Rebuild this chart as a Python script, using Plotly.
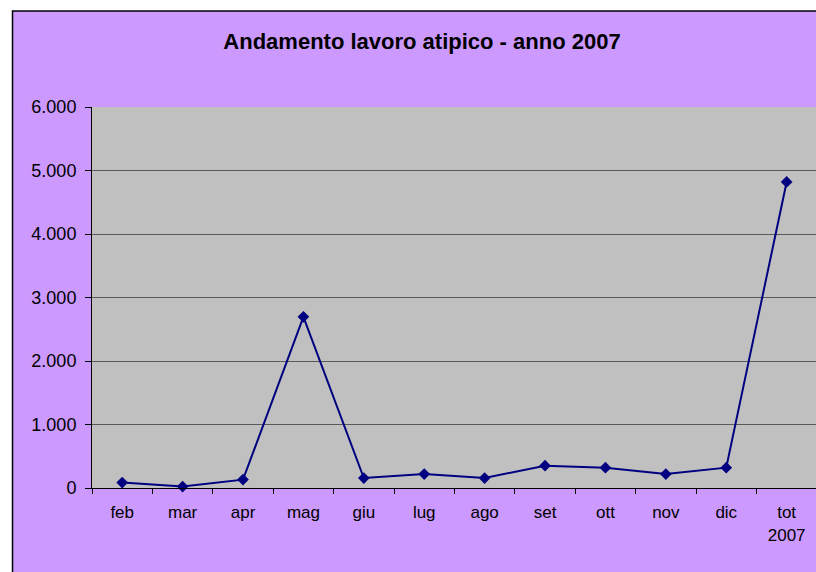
import plotly.graph_objects as go

categories = ["feb", "mar", "apr", "mag", "giu", "lug", "ago", "set", "ott", "nov", "dic", "tot<br>2007"]
values = [85, 22, 132, 2695, 157, 220, 157, 352, 320, 220, 320, 4820]
y_ticks = [0, 1000, 2000, 3000, 4000, 5000, 6000]
y_tick_text = ["0", "1.000", "2.000", "3.000", "4.000", "5.000", "6.000"]
title_text = "Andamento lavoro atipico - anno 2007"

W, H = 816, 572
L, R, T = 92, 0, 107
B = H - 488
pw, ph = W - L - R, H - T - B

def px_x(p):
    return (p - L) / pw

def px_y(p):
    return (H - B - p) / ph

fig = go.Figure()
fig.add_trace(go.Scatter(
    x=categories, y=values, mode="lines+markers",
    line=dict(color="#000080", width=2),
    marker=dict(symbol="diamond", size=9, color="#000080"),
    cliponaxis=False,
))

font = "Arial, Liberation Sans, sans-serif"
fig.update_layout(
    width=W, height=H,
    margin=dict(l=L, r=R, t=T, b=B),
    paper_bgcolor="white",
    plot_bgcolor="#C0C0C0",
    showlegend=False,
    font=dict(family=font, size=17, color="black"),
    title=dict(text="<b>" + title_text + "</b>", x=422 / W, xref="container",
               xanchor="center", y=1 - 41 / H, yref="container", yanchor="middle",
               font=dict(family=font, size=22, color="black")),
    shapes=[
        dict(type="rect", xref="paper", yref="paper", layer="below",
             x0=px_x(12.5), x1=px_x(900), y0=px_y(700), y1=px_y(11),
             fillcolor="#CC99FF", line=dict(color="black", width=1.5)),
        dict(type="rect", xref="paper", yref="paper", layer="below",
             x0=0, x1=1, y0=0, y1=1,
             fillcolor="#C0C0C0", line=dict(width=0)),
    ],
)
fig.update_xaxes(
    type="category", range=[-0.5, 11.486],
    showline=True, linecolor="black", linewidth=1,
    ticks="outside", ticklen=5, tickcolor="black", tickson="boundaries",
    ticklabelstandoff=9,
    showgrid=False, tickfont=dict(size=17, family=font),
)
fig.update_yaxes(
    range=[0, 6000], tickvals=y_ticks, ticktext=y_tick_text,
    showline=True, linecolor="black", linewidth=1,
    ticks="outside", ticklen=6, tickcolor="black", ticklabelstandoff=5,
    showgrid=True, gridcolor="#5a5a5a", gridwidth=1,
    zeroline=False, tickfont=dict(size=18, family=font),
)
fig.write_html(
    "out.html",
    config={"displayModeBar": False},
    post_script="document.body.style.margin='0';document.body.style.overflow='hidden';",
)
